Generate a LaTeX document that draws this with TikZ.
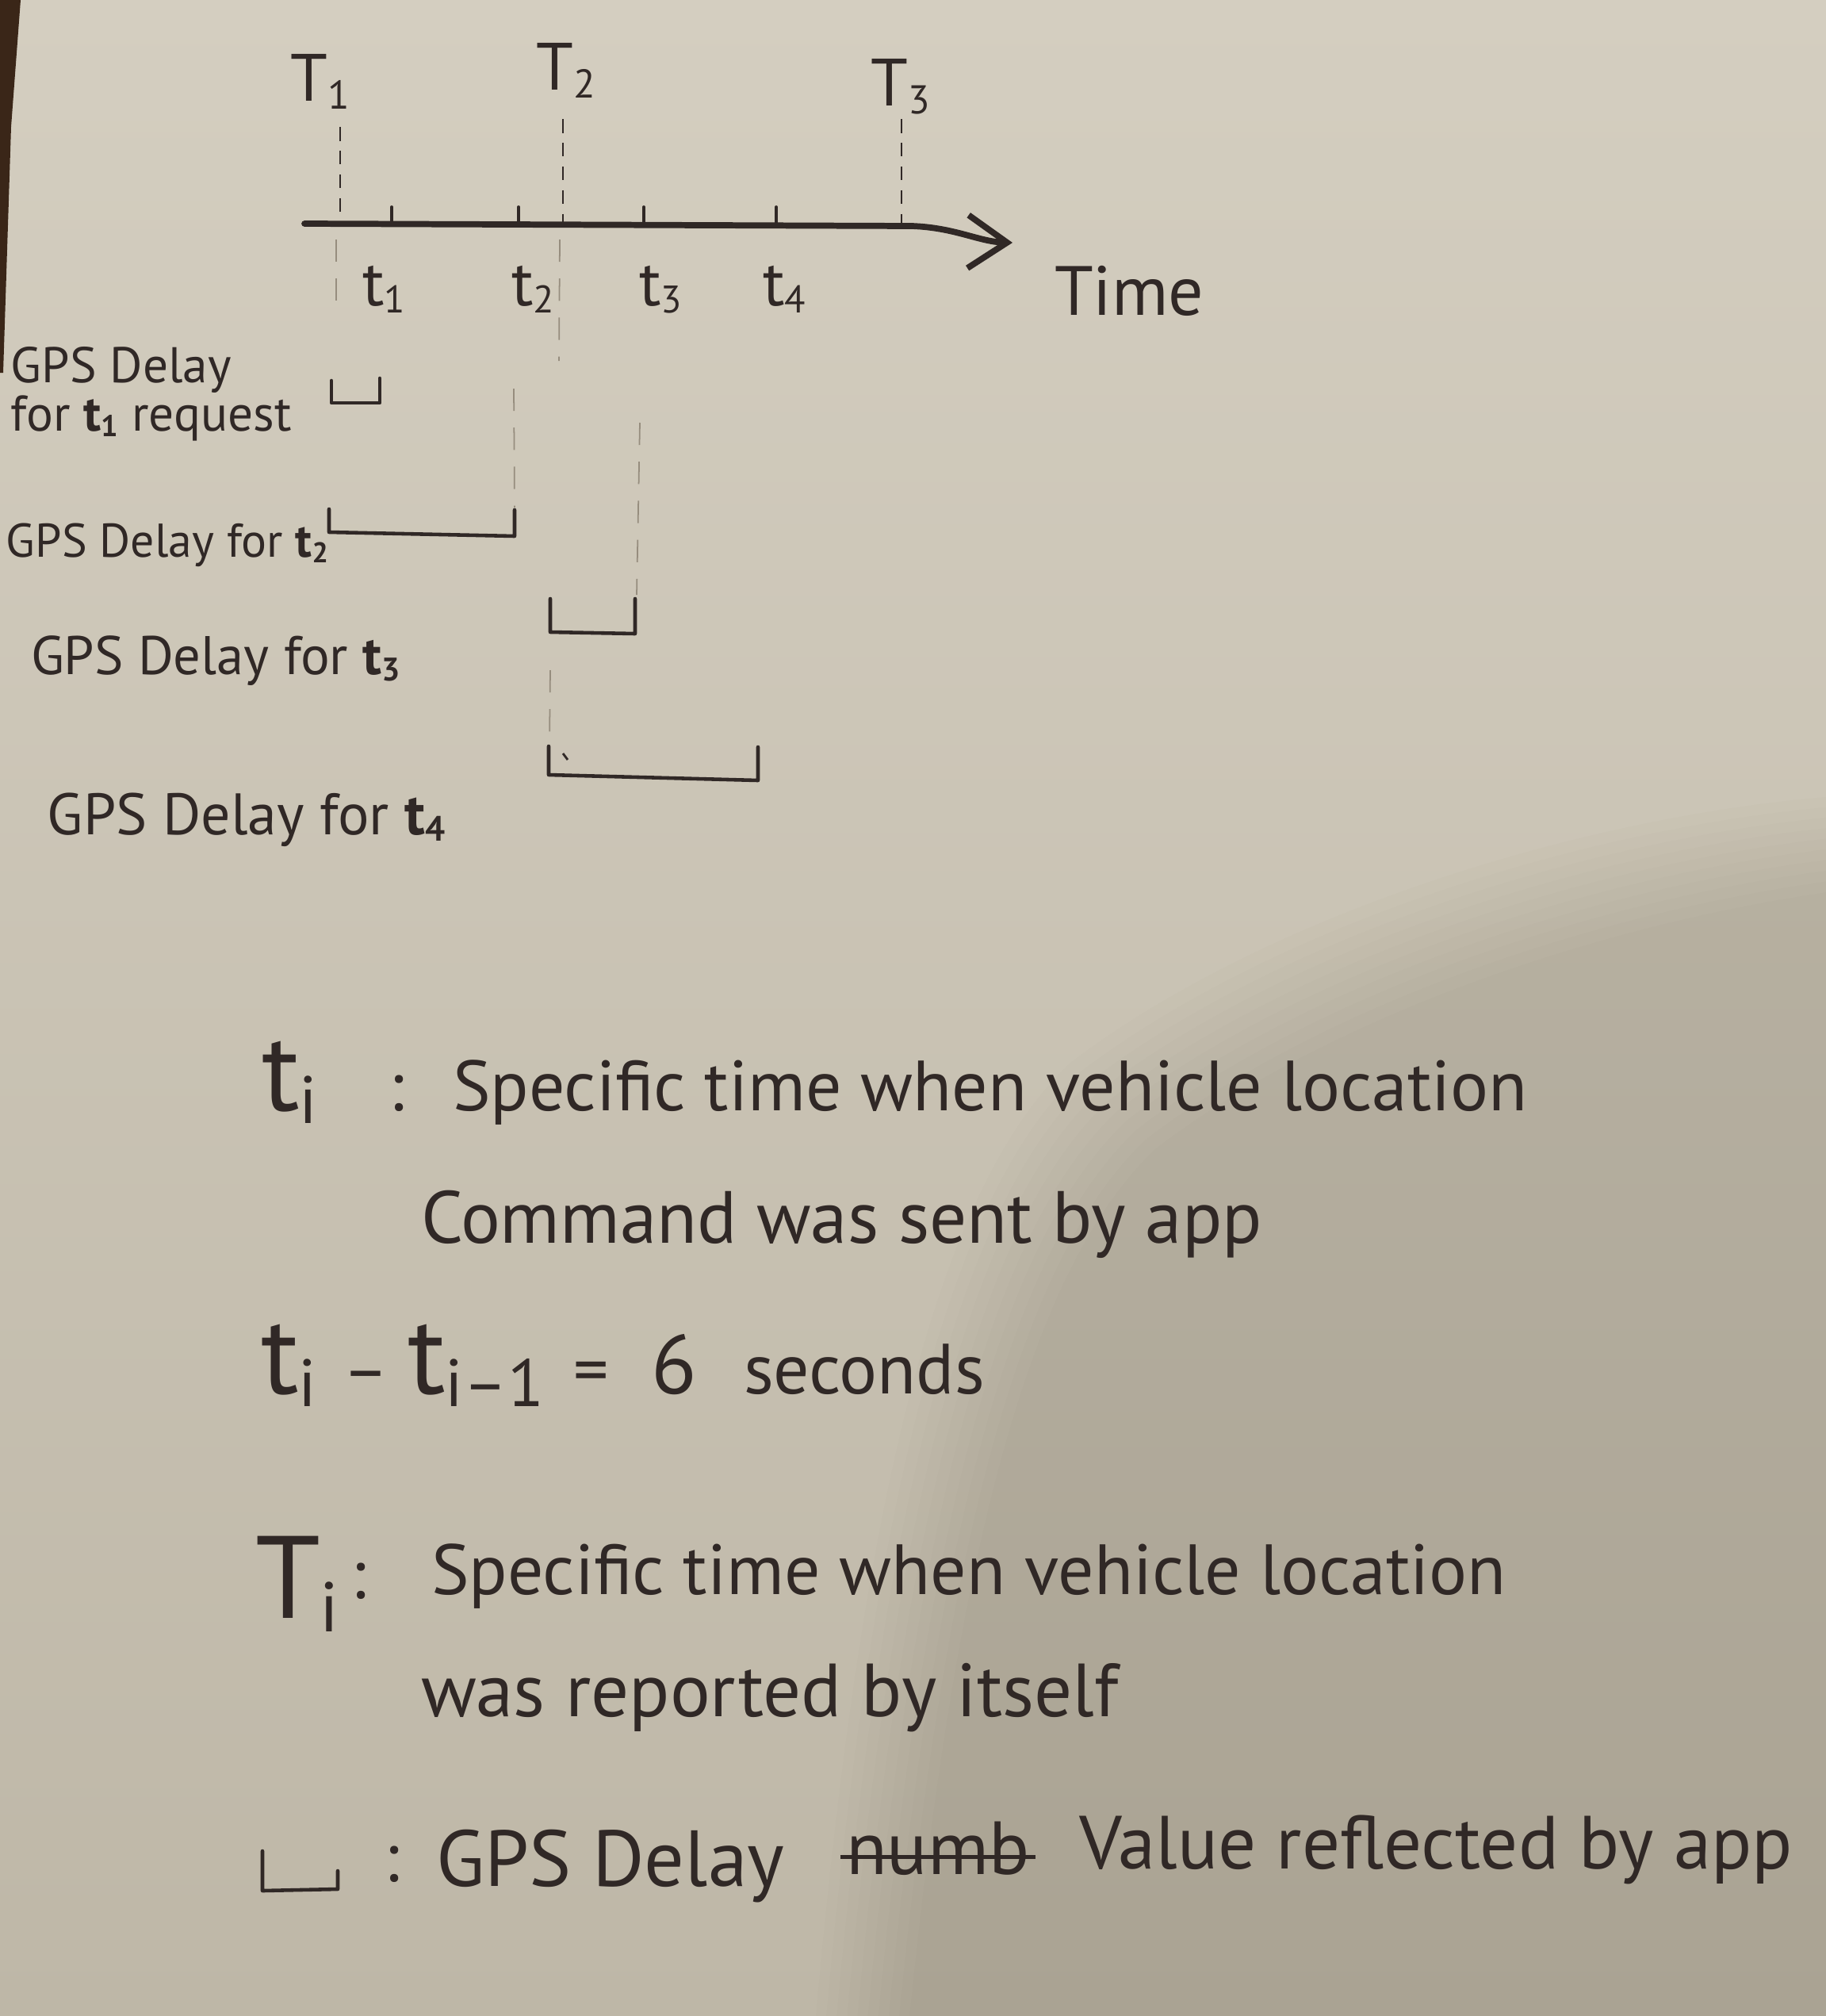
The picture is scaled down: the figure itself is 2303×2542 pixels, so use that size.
\documentclass[tikz,border=0pt]{standalone}
\usepackage{fontspec}
\setmainfont{PT Sans}
\usetikzlibrary{arrows.meta}

\definecolor{papertop}{RGB}{212,206,192}
\definecolor{paperbot}{RGB}{190,183,167}
\definecolor{shadowtone}{RGB}{80,70,52}
\definecolor{ink}{RGB}{48,40,38}
\definecolor{pencil}{RGB}{150,141,126}
\definecolor{edgebrown}{RGB}{58,38,24}

% font size helper and a small lowered index
\newcommand\fsz[1]{\fontsize{#1}{#1}\selectfont}
\newcommand\sbx[1]{\raisebox{-0.12em}{\scalebox{0.6}{#1}}}

\begin{document}
\begin{tikzpicture}[x=0.01cm, y=-0.01cm,
  txt/.style={text=ink, inner sep=0pt, outer sep=0pt},
  axisline/.style={draw=ink, line width=2.2pt, line cap=round, line join=round},
  tickmark/.style={draw=ink, line width=1.1pt, line cap=round},
  guide/.style={draw=ink, line width=0.8pt, dash pattern=on 5pt off 3.5pt},
  faint/.style={draw=pencil, line width=0.5pt, dash pattern=on 8pt off 6pt},
  bracket/.style={draw=ink, line width=1.3pt, line join=round, line cap=round},
]
\useasboundingbox (0,0) rectangle (2303,2542);

% paper with a soft shadow across the lower right
\shade[top color=papertop, bottom color=paperbot] (0,0) rectangle (2303,2542);
\begin{scope}
  \clip (0,0) rectangle (2303,2542);
  \foreach \d in {0,12,...,108}{
    \fill[shadowtone, opacity=0.016, shift={(\d,\d)}]
      (2450,990) -- (2303,1005) .. controls (2000,1030) and (1600,1150) .. (1350,1340)
      .. controls (1180,1500) and (1080,1900) .. (1020,2650) -- (2450,2650) -- cycle;
  }
\end{scope}
\fill[edgebrown] (0,0) -- (26,0) -- (14,160) -- (4,470) -- (0,470) -- cycle;

% time axis
\coordinate (ax0) at (384,282);
\coordinate (ax1) at (1150,285);
\coordinate (axtip) at (1277,306);
\draw[axisline, -{Straight Barb[length=14pt,width=19pt]}]
  (ax0) -- (ax1) .. controls (1205,287) and (1235,305) .. (axtip);
\node[txt, anchor=base west, font=\fsz{25}] (time) at (1330,397) {Time};

% request instants on the axis
\foreach \n/\x in {1/494, 2/654, 3/812, 4/979}{
  \coordinate (tk\n) at (\x,283);
  \draw[tickmark] (tk\n) -- ++(0,-22);
}
\node[txt, anchor=base, font=\fsz{23}] (t1) at (484,385) {t\sbx{1}};
\node[txt, anchor=base, font=\fsz{23}] (t2) at (672,385) {t\sbx{2}};
\node[txt, anchor=base, font=\fsz{23}] (t3) at (833,385) {t\sbx{3}};
\node[txt, anchor=base, font=\fsz{23}] (t4) at (989,385) {t\sbx{4}};

% report instants
\node[txt, anchor=base, font=\fsz{24}] (T1) at (404,127) {T\sbx{1}};
\node[txt, anchor=base, font=\fsz{24}] (T2) at (714,113) {T\sbx{2}};
\node[txt, anchor=base, font=\fsz{24}] (T3) at (1136,133) {T\sbx{3}};
\coordinate (T1a) at (429,160); \coordinate (T1b) at (429,282);
\coordinate (T2a) at (710,150); \coordinate (T2b) at (710,282);
\coordinate (T3a) at (1137,150); \coordinate (T3b) at (1137,282);
\draw[guide] (T1a) -- (T1b);
\draw[guide] (T2a) -- (T2b);
\draw[guide] (T3a) -- (T3b);

% light pencil guides below the axis
\draw[faint] (424,302) -- (424,392);
\draw[faint] (706,302) -- (705,455);
\draw[faint] (648,490) -- (649,640);
\draw[faint] (807,533) -- (803,750);
\draw[faint] (694,845) -- (693,938);

% delay brackets
\draw[bracket] (418,480) -- (418,508) -- (479,508) -- (479,477);
\draw[bracket] (415,642) -- (415,671) -- (649,676) -- (649,643);
\draw[bracket] (694,755) -- (694,797) -- (801,799) -- (801,755);
\draw[bracket] (692,941) -- (692,977) -- (956,984) -- (956,942);
\draw[ink, line width=0.8pt] (710,950) -- (716,958);

% delay labels
\node[txt, anchor=base west, font=\fsz{18}] (d1a) at (14,482) {GPS Delay};
\node[txt, anchor=base west, font=\fsz{18}] (d1b) at (14,543) {for \textbf{t\sbx{1}} request};
\node[txt, anchor=base west, font=\fsz{17}] (d2) at (8,702) {GPS Delay for \textbf{t\sbx{2}}};
\node[txt, anchor=base west, font=\fsz{19.5}] (d3) at (39,850) {GPS Delay for \textbf{t\sbx{3}}};
\node[txt, anchor=base west, font=\fsz{21}] (d4) at (60,1052) {GPS Delay for \textbf{t\sbx{4}}};

% definitions
\node[txt, anchor=base west, font=\fsz{40}] (defti) at (330,1400) {t\sbx{i}};
\node[txt, anchor=base, font=\fsz{25}] (colti) at (500,1400) {:};
\node[txt, anchor=base west, font=\fsz{25.5}] (defa) at (571,1400) {Specific time when vehicle location};
\node[txt, anchor=base west, font=\fsz{26.5}] (defb) at (531,1567) {Command was sent by app};

\node[txt, anchor=base west, font=\fsz{40}] (dif1) at (329,1757) {t\sbx{i}};
\node[txt, anchor=base, font=\fsz{25}] (difm) at (462,1757) {–};
\node[txt, anchor=base west, font=\fsz{40}] (dif2) at (514,1757) {t\sbx{i–1}};
\node[txt, anchor=base, font=\fsz{25}] (difeq) at (746,1757) {=};
\node[txt, anchor=base, font=\fsz{30}] (difsix) at (850,1757) {6};
\node[txt, anchor=base west, font=\fsz{25.5}] (difsec) at (938,1757) {seconds};

\node[txt, anchor=base west, font=\fsz{42}] (defTi) at (322,2040) {T\sbx{i}};
\node[txt, anchor=base, font=\fsz{25}] (colTi) at (452,2015) {:};
\node[txt, anchor=base west, font=\fsz{25.5}] (defc) at (544,2010) {Specific time when vehicle location};
\node[txt, anchor=base west, font=\fsz{27}] (defd) at (531,2164) {was reported by itself};

% legend
\draw[bracket] (331,2334) -- (331,2384) -- (426,2382) -- (426,2359);
\node[txt, anchor=base, font=\fsz{25}] (collg) at (494,2372) {:};
\node[txt, anchor=base west, font=\fsz{28.5}] (lgA) at (550,2378) {GPS Delay};
\node[txt, anchor=base west, font=\fsz{27}] (lgB) at (1067,2363) {numb};
\draw[ink, line width=1.4pt]
  ([xshift=-2pt, yshift=6pt]lgB.base west) -- ([xshift=2pt, yshift=6pt]lgB.base east);
\node[txt, anchor=base west, font=\fsz{27}] (lgC) at (1361,2356) {Value reflected by app};
\end{tikzpicture}
\end{document}
